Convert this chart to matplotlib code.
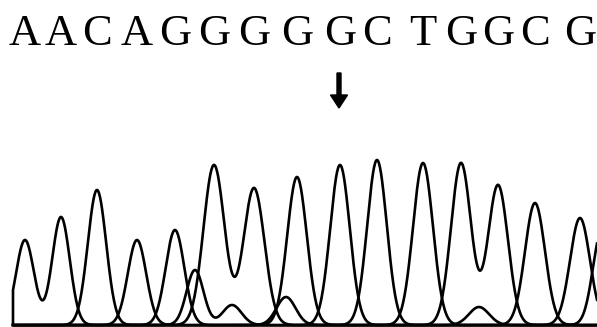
import numpy as np
import matplotlib
matplotlib.use("Agg")
import matplotlib.pyplot as plt

# ------------------------------------------------------------
# Sequencing chromatogram: base calls + four traces
# (x in trace samples, y in signal units, both)
# ------------------------------------------------------------
base_calls = list("AACAGGGGGCTGGCG")
call_pos = [25, 61, 97, 137, 175, 214, 254, 297, 340, 377, 423, 461, 498, 535, 580]
mutation_index = 8  # arrow marks the 9th call

# main peaks, one per call, plus a few small secondary peaks
peak_pos = call_pos + [195, 232, 286, 479, 602]
peak_height = [85, 108, 135, 85, 95, 160, 137, 148, 160, 165, 162, 162, 140, 122, 107,
               55, 20, 28, 18, 95]
peak_width = [9.0, 8.8, 9.2, 9.2, 9.3, 10.5, 10.5, 9.8, 9.8, 9.8, 10.0, 10.0, 10.0, 10.0, 10.0,
              8.5, 9.5, 9.5, 10.0, 9.0]
peak_trace = [0, 0, 1, 0, 2, 3, 3, 2, 3, 1, 0, 3, 3, 1, 3,
              1, 1, 0, 2, 0]

x = np.arange(13, 597.5, 0.5)
traces = np.zeros((4, x.size))
for p, h, w, t in zip(peak_pos, peak_height, peak_width, peak_trace):
    traces[t] += h * np.exp(-(x - p) ** 2 / (2 * w ** 2))
# the window starts mid-peak: the trace drops straight to the baseline there
x = np.concatenate([[x[0]], x])
traces = np.hstack([np.zeros((4, 1)), traces])

fig = plt.figure(figsize=(5.97, 3.27), dpi=100)
ax = fig.add_axes([0, 0, 1, 1])
ax.set_xlim(0, 597)
ax.set_ylim(-2, 325)
ax.axis("off")

for tr in traces:
    ax.plot(x, tr, color="black", lw=1.9, solid_joinstyle="miter")
ax.hlines(0, x.min(), x.max(), color="black", lw=1.8)

for b, p in zip(base_calls, call_pos):
    ax.text(p, 280, b, ha="center", va="baseline", fontsize=32,
            family="Liberation Serif", color="black")

ax.arrow(call_pos[mutation_index] - 1, 252, 0, -35, width=4, head_width=17,
         head_length=13, length_includes_head=True, color="black")

fig.savefig("out.png", dpi=100)
